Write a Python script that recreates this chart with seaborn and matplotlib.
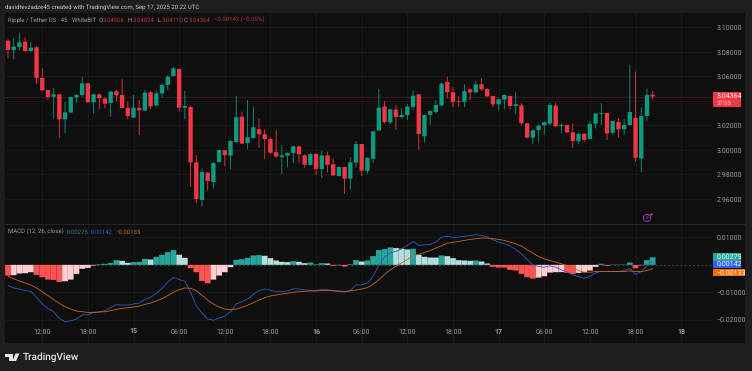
import numpy as np
import pandas as pd
import matplotlib
matplotlib.use("Agg")
import matplotlib.pyplot as plt
from matplotlib.patches import Rectangle, Polygon
from matplotlib.transforms import Affine2D
import seaborn as sns

# XRP/USDT 45 min candles
opens = [3.0892, 3.0816, 3.0840, 3.0884, 3.0808, 3.0838, 3.0588, 3.0490, 3.0435, 3.0454,
         3.0250, 3.0307, 3.0430, 3.0449, 3.0544, 3.0389, 3.0454, 3.0419, 3.0384, 3.0479,
         3.0449, 3.0345, 3.0264, 3.0343, 3.0321, 3.0471, 3.0364, 3.0462, 3.0530, 3.0604,
         3.0661, 3.0345, 3.0351, 2.9899, 2.9592, 2.9815, 2.9739, 2.9902, 2.9997, 2.9954,
         3.0065, 3.0272, 3.0057, 3.0098, 3.0169, 3.0128, 3.0090, 2.9981, 2.9943, 2.9954,
         2.9976, 3.0030, 2.9956, 2.9878, 2.9967, 2.9845, 2.9956, 2.9883, 2.9788, 2.9861,
         2.9766, 2.9897, 3.0049, 2.9829, 2.9929, 3.0160, 3.0354, 3.0226, 3.0329, 3.0269,
         3.0286, 3.0351, 3.0454, 3.0112, 3.0288, 3.0310, 3.0364, 3.0555, 3.0471, 3.0397,
         3.0394, 3.0495, 3.0471, 3.0536, 3.0498, 3.0441, 3.0373, 3.0411, 3.0441, 3.0359,
         3.0364, 3.0218, 3.0101, 3.0163, 3.0201, 3.0215, 3.0362, 3.0196, 3.0204, 3.0144,
         3.0071, 3.0131, 3.0090, 3.0215, 3.0294, 3.0302, 3.0141, 3.0228, 3.0169, 3.0204,
         3.0261, 2.9932, 3.0277, 3.04506]
closes = [3.0816, 3.0843, 3.0879, 3.0808, 3.0835, 3.0588, 3.0487, 3.0432, 3.0454, 3.0250,
          3.0307, 3.0432, 3.0449, 3.0544, 3.0389, 3.0454, 3.0422, 3.0378, 3.0476, 3.0446,
          3.0343, 3.0277, 3.0345, 3.0324, 3.0468, 3.0356, 3.0462, 3.0530, 3.0598, 3.0666,
          3.0345, 3.0359, 2.9899, 2.9600, 2.9820, 2.9747, 2.9894, 3.0000, 2.9959, 3.0073,
          3.0267, 3.0052, 3.0103, 3.0185, 3.0128, 3.0090, 2.9978, 2.9948, 2.9956, 2.9976,
          3.0030, 2.9965, 2.9880, 2.9967, 2.9845, 2.9956, 2.9880, 2.9793, 2.9861, 2.9766,
          2.9899, 3.0049, 2.9831, 2.9937, 3.0152, 3.0345, 3.0228, 3.0332, 3.0269, 3.0286,
          3.0354, 3.0443, 3.0131, 3.0286, 3.0318, 3.0367, 3.0541, 3.0471, 3.0392, 3.0392,
          3.0479, 3.0471, 3.0536, 3.0495, 3.0438, 3.0373, 3.0413, 3.0449, 3.0359, 3.0373,
          3.0218, 3.0101, 3.0160, 3.0199, 3.0226, 3.0367, 3.0193, 3.0204, 3.0144, 3.0073,
          3.0131, 3.0082, 3.0212, 3.0297, 3.0302, 3.0136, 3.0237, 3.0169, 3.0204, 3.0310,
          2.9937, 3.0277, 3.0449, 3.04364]
highs = [3.0903, 3.0911, 3.0952, 3.0917, 3.0884, 3.0849, 3.0666, 3.0490, 3.0503, 3.0454,
         3.0394, 3.0432, 3.0457, 3.0598, 3.0549, 3.0462, 3.0462, 3.0435, 3.0484, 3.0490,
         3.0577, 3.0394, 3.0449, 3.0408, 3.0490, 3.0484, 3.0484, 3.0544, 3.0612, 3.0680,
         3.0666, 3.0484, 3.0359, 2.9959, 2.9850, 2.9820, 2.9899, 3.0000, 3.0000, 3.0082,
         3.0441, 3.0313, 3.0408, 3.0354, 3.0258, 3.0171, 3.0103, 3.0163, 3.0041, 2.9981,
         3.0035, 3.0035, 2.9965, 2.9978, 2.9973, 2.9992, 2.9986, 2.9932, 2.9869, 2.9864,
         2.9940, 3.0073, 3.0049, 2.9937, 3.0152, 3.0498, 3.0400, 3.0332, 3.0367, 3.0340,
         3.0373, 3.0484, 3.0454, 3.0286, 3.0324, 3.0408, 3.0549, 3.0598, 3.0517, 3.0441,
         3.0536, 3.0503, 3.0563, 3.0585, 3.0503, 3.0441, 3.0419, 3.0454, 3.0443, 3.0471,
         3.0381, 3.0218, 3.0169, 3.0209, 3.0231, 3.0386, 3.0386, 3.0218, 3.0204, 3.0218,
         3.0141, 3.0136, 3.0237, 3.0299, 3.0381, 3.0302, 3.0237, 3.0258, 3.0253, 3.0696,
         3.0639, 3.0348, 3.0500, 3.04824]
lows = [3.0748, 3.0743, 3.0811, 3.0802, 3.0802, 3.0539, 3.0484, 3.0408, 3.0258, 3.0101,
        3.0136, 3.0299, 3.0386, 3.0435, 3.0386, 3.0299, 3.0332, 3.0340, 3.0272, 3.0394,
        3.0340, 3.0250, 3.0264, 3.0122, 3.0321, 3.0335, 3.0354, 3.0435, 3.0490, 3.0598,
        3.0313, 3.0250, 2.9701, 2.9565, 2.9538, 2.9668, 2.9687, 2.9897, 2.9869, 2.9845,
        3.0060, 3.0049, 3.0005, 3.0092, 3.0019, 2.9924, 2.9967, 2.9937, 2.9804, 2.9859,
        2.9891, 2.9897, 2.9856, 2.9875, 2.9796, 2.9774, 2.9818, 2.9788, 2.9782, 2.9641,
        2.9674, 2.9859, 2.9788, 2.9804, 2.9897, 3.0155, 3.0218, 3.0212, 3.0163, 3.0258,
        3.0245, 3.0326, 3.0000, 3.0060, 3.0204, 3.0299, 3.0359, 3.0422, 3.0348, 3.0354,
        3.0348, 3.0408, 3.0462, 3.0484, 3.0435, 3.0348, 3.0326, 3.0332, 3.0332, 3.0291,
        3.0201, 3.0095, 3.0049, 3.0065, 3.0125, 3.0201, 3.0190, 3.0136, 3.0141, 3.0019,
        3.0049, 3.0063, 3.0087, 3.0177, 3.0204, 3.0082, 3.0125, 3.0101, 3.0122, 3.0199,
        2.9905, 2.9815, 3.0239, 3.04110]

# MACD pane
hist = [-.00390, -.00378, -.00317, -.00305, -.00268, -.00366, -.00451, -.00537, -.00549, -.00622,
        -.00598, -.00537, -.00329, -.00146, -.00110, -.00024, .00024, .00037, .00073, .00171,
        .00146, .00073, .00098, .00110, .00220, .00195, .00293, .00366, .00464, .00537,
        .00366, .00256, -.00122, -.00268, -.00586, -.00671, -.00537, -.00390, -.00268, -.00085,
        .00183, .00207, .00256, .00342, .00354, .00329, .00244, .00159, .00110, .00098,
        .00134, .00110, .00061, .00085, .00012, .00061, .00049, -.00037, -.00012, -.00061,
        .00024, .00171, .00122, .00159, .00317, .00537, .00573, .00634, .00610, .00586,
        .00561, .00586, .00366, .00293, .00268, .00266, .00342, .00317, .00244, .00171,
        .00159, .00146, .00159, .00122, .00049, -.00073, -.00098, -.00100, -.00183, -.00207,
        -.00329, -.00451, -.00500, -.00464, -.00415, -.00281, -.00268, -.00265, -.00293, -.00329,
        -.00293, -.00268, -.00207, -.00073, .00037, -.00037, .00012, .00012, .00014, .00085,
        -.00122, -.00012, .00171, .00275]
macd = [-.00756, -.00842, -.00878, -.00939, -.00964, -.01183, -.01427, -.01586, -.01708, -.01952,
        -.02074, -.02037, -.01976, -.01830, -.01818, -.01732, -.01708, -.01671, -.01549, -.01452,
        -.01464, -.01464, -.01427, -.01391, -.01257, -.01183, -.01037, -.00854, -.00634, -.00451,
        -.00537, -.00598, -.01000, -.01488, -.01757, -.01976, -.02013, -.01940, -.01867, -.01708,
        -.01427, -.01342, -.01244, -.01074, -.00939, -.00878, -.00927, -.00976, -.00976, -.00952,
        -.00878, -.00878, -.00915, -.00927, -.00927, -.00891, -.00891, -.00952, -.00976, -.01000,
        -.00939, -.00732, -.00732, -.00659, -.00415, -.00024, .00281, .00439, .00488, .00586,
        .00708, .00854, .00708, .00732, .00744, .00830, .01013, .01037, .01000, .01013,
        .01037, .01061, .01098, .01074, .01013, .00915, .00830, .00769, .00683, .00561,
        .00403, .00195, .00000, -.00061, -.00085, -.00037, -.00085, -.00183, -.00268, -.00366,
        -.00427, -.00488, -.00415, -.00293, -.00232, -.00244, -.00244, -.00244, -.00207, -.00134,
        -.00354, -.00244, -.00024, .00142]
signal = [-.00415, -.00512, -.00586, -.00659, -.00732, -.00842, -.00976, -.01122, -.01269, -.01403,
          -.01525, -.01610, -.01684, -.01708, -.01732, -.01732, -.01720, -.01708, -.01671, -.01623,
          -.01586, -.01562, -.01537, -.01501, -.01440, -.01391, -.01318, -.01232, -.01122, -.01000,
          -.00903, -.00842, -.00854, -.00939, -.01110, -.01281, -.01427, -.01537, -.01610, -.01635,
          -.01610, -.01549, -.01476, -.01379, -.01281, -.01196, -.01135, -.01098, -.01061, -.01037,
          -.01000, -.00976, -.00964, -.00952, -.00952, -.00939, -.00939, -.00939, -.00952, -.00964,
          -.00952, -.00915, -.00878, -.00830, -.00708, -.00537, -.00354, -.00183, -.00049, .00073,
          .00195, .00342, .00378, .00451, .00525, .00610, .00695, .00793, .00817, .00854,
          .00891, .00927, .00952, .00976, .00976, .00952, .00927, .00891, .00830, .00769,
          .00683, .00549, .00427, .00305, .00220, .00159, .00098, .00037, -.00024, -.00122,
          -.00207, -.00268, -.00268, -.00244, -.00244, -.00244, -.00244, -.00244, -.00244, -.00220,
          -.00244, -.00244, -.00207, -.00133]

price_ticks = [3.10, 3.08, 3.06, 3.04, 3.02, 3.00, 2.98, 2.96]
price_labels = ["3.10000", "3.08000", "3.06000", "", "3.02000", "3.00000", "2.98000", "2.96000"]
macd_ticks = [0.01, -0.01, -0.02]
macd_labels = ["0.01000", "\u22120.01000", "\u22120.02000"]
time_labels = ["12:00", "18:00", "15", "06:00", "12:00", "18:00", "16", "06:00",
               "12:00", "18:00", "17", "06:00", "12:00", "18:00", "18"]
day_labels = ["15", "16", "17", "18"]

GREEN = "#0b9c80"
RED = "#f23645"
TEXT = "#9c9c9c"
GRID = "#1a1a1a"
PANE = "#0f0f0f"
W, H = 752, 371


def px_rect(x0, y0, x1, y1):
    return [x0 / W, 1 - y1 / H, (x1 - x0) / W, (y1 - y0) / H]


def put(x, y, s, **kw):
    kw.setdefault("va", "center")
    kw.setdefault("zorder", 8)
    fig.text(x / W, 1 - y / H, s, **kw)


def box(x0, y0, x1, y1, color, z=6):
    fig.add_artist(Rectangle((x0 / W, 1 - y1 / H), (x1 - x0) / W, (y1 - y0) / H,
                             transform=fig.transFigure, fc=color, ec="none", zorder=z))


sns.set_theme(style="dark", rc={"axes.facecolor": PANE, "figure.facecolor": "#1e1e1e"})
plt.rcParams["font.family"] = ["Roboto", "DejaVu Sans"]
plt.rcParams["text.hinting"] = "no_hinting"
plt.rcParams["text.hinting_factor"] = 1

df = pd.DataFrame({"i": np.arange(len(opens)), "open": opens, "high": highs, "low": lows,
                   "close": closes, "hist": hist, "macd": macd, "signal": signal})
df["up"] = df["close"] >= df["open"]
prev = df["hist"].shift(1)
df["state"] = np.where(df["hist"] >= 0,
                       np.where(df["hist"] >= prev, "grow_up", "fall_up"),
                       np.where(df["hist"] >= prev, "rise_dn", "fall_dn"))

fig = plt.figure(figsize=(W / 100, H / 100), dpi=100)
box(5, 13, 745, 342.5, PANE, z=-1)

ax = fig.add_axes(px_rect(5, 13, 712, 224))
ax2 = fig.add_axes(px_rect(5, 224, 712, 342.5))
xlim = (-0.526, 123.4)
x_ticks = 6 + 8 * np.arange(len(time_labels))

# candles
colors = np.where(df["up"], GREEN, RED)
wicks = ax.vlines(df["i"], df["low"], df["high"], colors=colors, lw=0.6, zorder=3)
wicks.set_snap(False)
ax.bar(df["i"], (df["close"] - df["open"]).abs(), bottom=df[["open", "close"]].min(axis=1),
       width=0.76, color=colors, edgecolor="none", linewidth=0, zorder=4)
ax.axhline(closes[-1], color="#43191f", lw=0.6, zorder=2)
ax.set_xlim(xlim)
ax.set_ylim(2.9396, 3.1118)
ax.set_yticks(price_ticks)
ax.set_yticklabels(price_labels)
ax.yaxis.tick_right()
ax.set_xticks(x_ticks)
ax.set_xticklabels([])

# macd histogram and lines
sns.barplot(data=df, x="i", y="hist", hue="state", native_scale=True, dodge=False, width=1,
            saturation=1, legend=False, ax=ax2, zorder=3, edgecolor="none", linewidth=0,
            palette={"grow_up": "#26a69a", "fall_up": "#b2dfdb", "rise_dn": "#ffcdd2", "fall_dn": "#ff5252"})
sns.lineplot(data=df, x="i", y="macd", color="#2d5cc4", lw=0.6, ax=ax2, zorder=5)
sns.lineplot(data=df, x="i", y="signal", color="#c8681c", lw=0.6, ax=ax2, zorder=5)
ax2.axhline(0, color="#555555", lw=0.5, ls=(0, (3, 3)), zorder=2)
ax2.set_xlim(xlim)
ax2.set_ylim(-0.02829, 0.01488)
ax2.set_yticks(macd_ticks)
ax2.set_yticklabels(macd_labels)
ax2.yaxis.tick_right()
ax2.set_xticks(x_ticks)
ax2.set_xticklabels(time_labels)
ax2.set_xlabel("")
ax2.set_ylabel("")
for lab in ax2.get_xticklabels():
    lab.set_fontweight("bold" if lab.get_text() in day_labels else "normal")

# no pixel snapping, bars keep their true widths
for p in list(ax.patches) + list(ax2.patches):
    p.set_snap(False)

for a in (ax, ax2):
    a.grid(True, color=GRID, lw=0.6)
    a.set_axisbelow(True)
    a.tick_params(axis="y", length=0, pad=3.5, labelsize=4.8, labelcolor=TEXT)
    for s in a.spines.values():
        s.set_visible(False)
    a.patch.set_alpha(0)
ax.tick_params(axis="x", length=0)
ax2.tick_params(axis="x", length=0, pad=-10, labelsize=4.9, labelcolor=TEXT)
ax2.set_xlim(xlim)

# pane separator
fig.add_artist(plt.Line2D([5 / W, 745 / W], [1 - 224 / H] * 2, color="#262626", lw=0.7, zorder=2))

# headers
put(5, 7, "davidtevzadze45 created with TradingView.com, Sep 17, 2025 20:22 UTC",
    color="#c9c9c9", fontsize=4.4)
put(8.3, 20, "Ripple / Tether US \u00b7 45 \u00b7 WhiteBIT", color=TEXT, fontsize=4.2)
for x, lab, xv, val in [(99, "O", 103, "3.04506"), (128, "H", 133, "3.04824"),
                        (158, "L", 162, "3.04110"), (184, "C", 189, "3.04364")]:
    put(x, 20, lab, color=TEXT, fontsize=4.3)
    put(xv, 20, val, color="#b8303c", fontsize=4.5)
put(214, 20, "\u22120.00142 (\u22120.05%)", color="#b8303c", fontsize=4.5)

put(8.3, 232, "MACD (12, 26, close)", color=TEXT, fontsize=4.4)
put(67, 232, "0.00275", color="#1f8c80", fontsize=4.5)
put(91, 232, "0.00142", color="#2d5cc4", fontsize=4.5)
put(116, 232, "\u22120.00133", color="#c8681c", fontsize=4.5)

# last value tags on the scale
box(712.5, 92.5, 741, 106.7, RED)
put(716.5, 96.3, "3.04364", color="#ffffff", fontsize=4.8)
put(716.5, 103, "37:05", color="#ffd5d8", fontsize=4.6)
box(712.5, 253.3, 741, 260.7, "#26a69a")
put(716.5, 257, "0.00275", color="#ffffff", fontsize=4.8)
box(712.5, 260.8, 741, 268.2, "#2962ff")
put(716.5, 264.5, "0.00142", color="#ffffff", fontsize=4.8)
box(712.5, 269, 745, 276.3, "#ff6d00")
put(716.5, 272.7, "\u22120.00133", color="#ffffff", fontsize=4.8)

# lightning badge
ax.scatter([112], [2.9446], s=26, facecolor="none", edgecolor="#7a3aa8", lw=0.8, zorder=5)
ax.text(112, 2.9446, "\u26a1", color="#8a45bd", fontsize=5, ha="center", va="center",
        family="DejaVu Sans", zorder=6)
ax.scatter([112.7], [2.9478], s=3, color="#f23645", linewidths=0, zorder=7)

# footer logo
to_fig = Affine2D().scale(1 / W, -1 / H).translate(0, 1) + fig.transFigure
fig.add_artist(Polygon([(5, 353.5), (12.5, 353.5), (12.5, 361), (9, 361), (9, 356.5), (5, 356.5)],
                       transform=to_fig, fc="#e6e6e6", ec="none", zorder=7))
fig.add_artist(Polygon([(15.5, 353.5), (19.5, 353.5), (16, 361), (12.5, 361)],
                       transform=to_fig, fc="#e6e6e6", ec="none", zorder=7))
put(23, 357, "TradingView", color="#e6e6e6", fontsize=7.0, fontweight="medium")

fig.savefig("out.png", dpi=100, facecolor=fig.get_facecolor())
